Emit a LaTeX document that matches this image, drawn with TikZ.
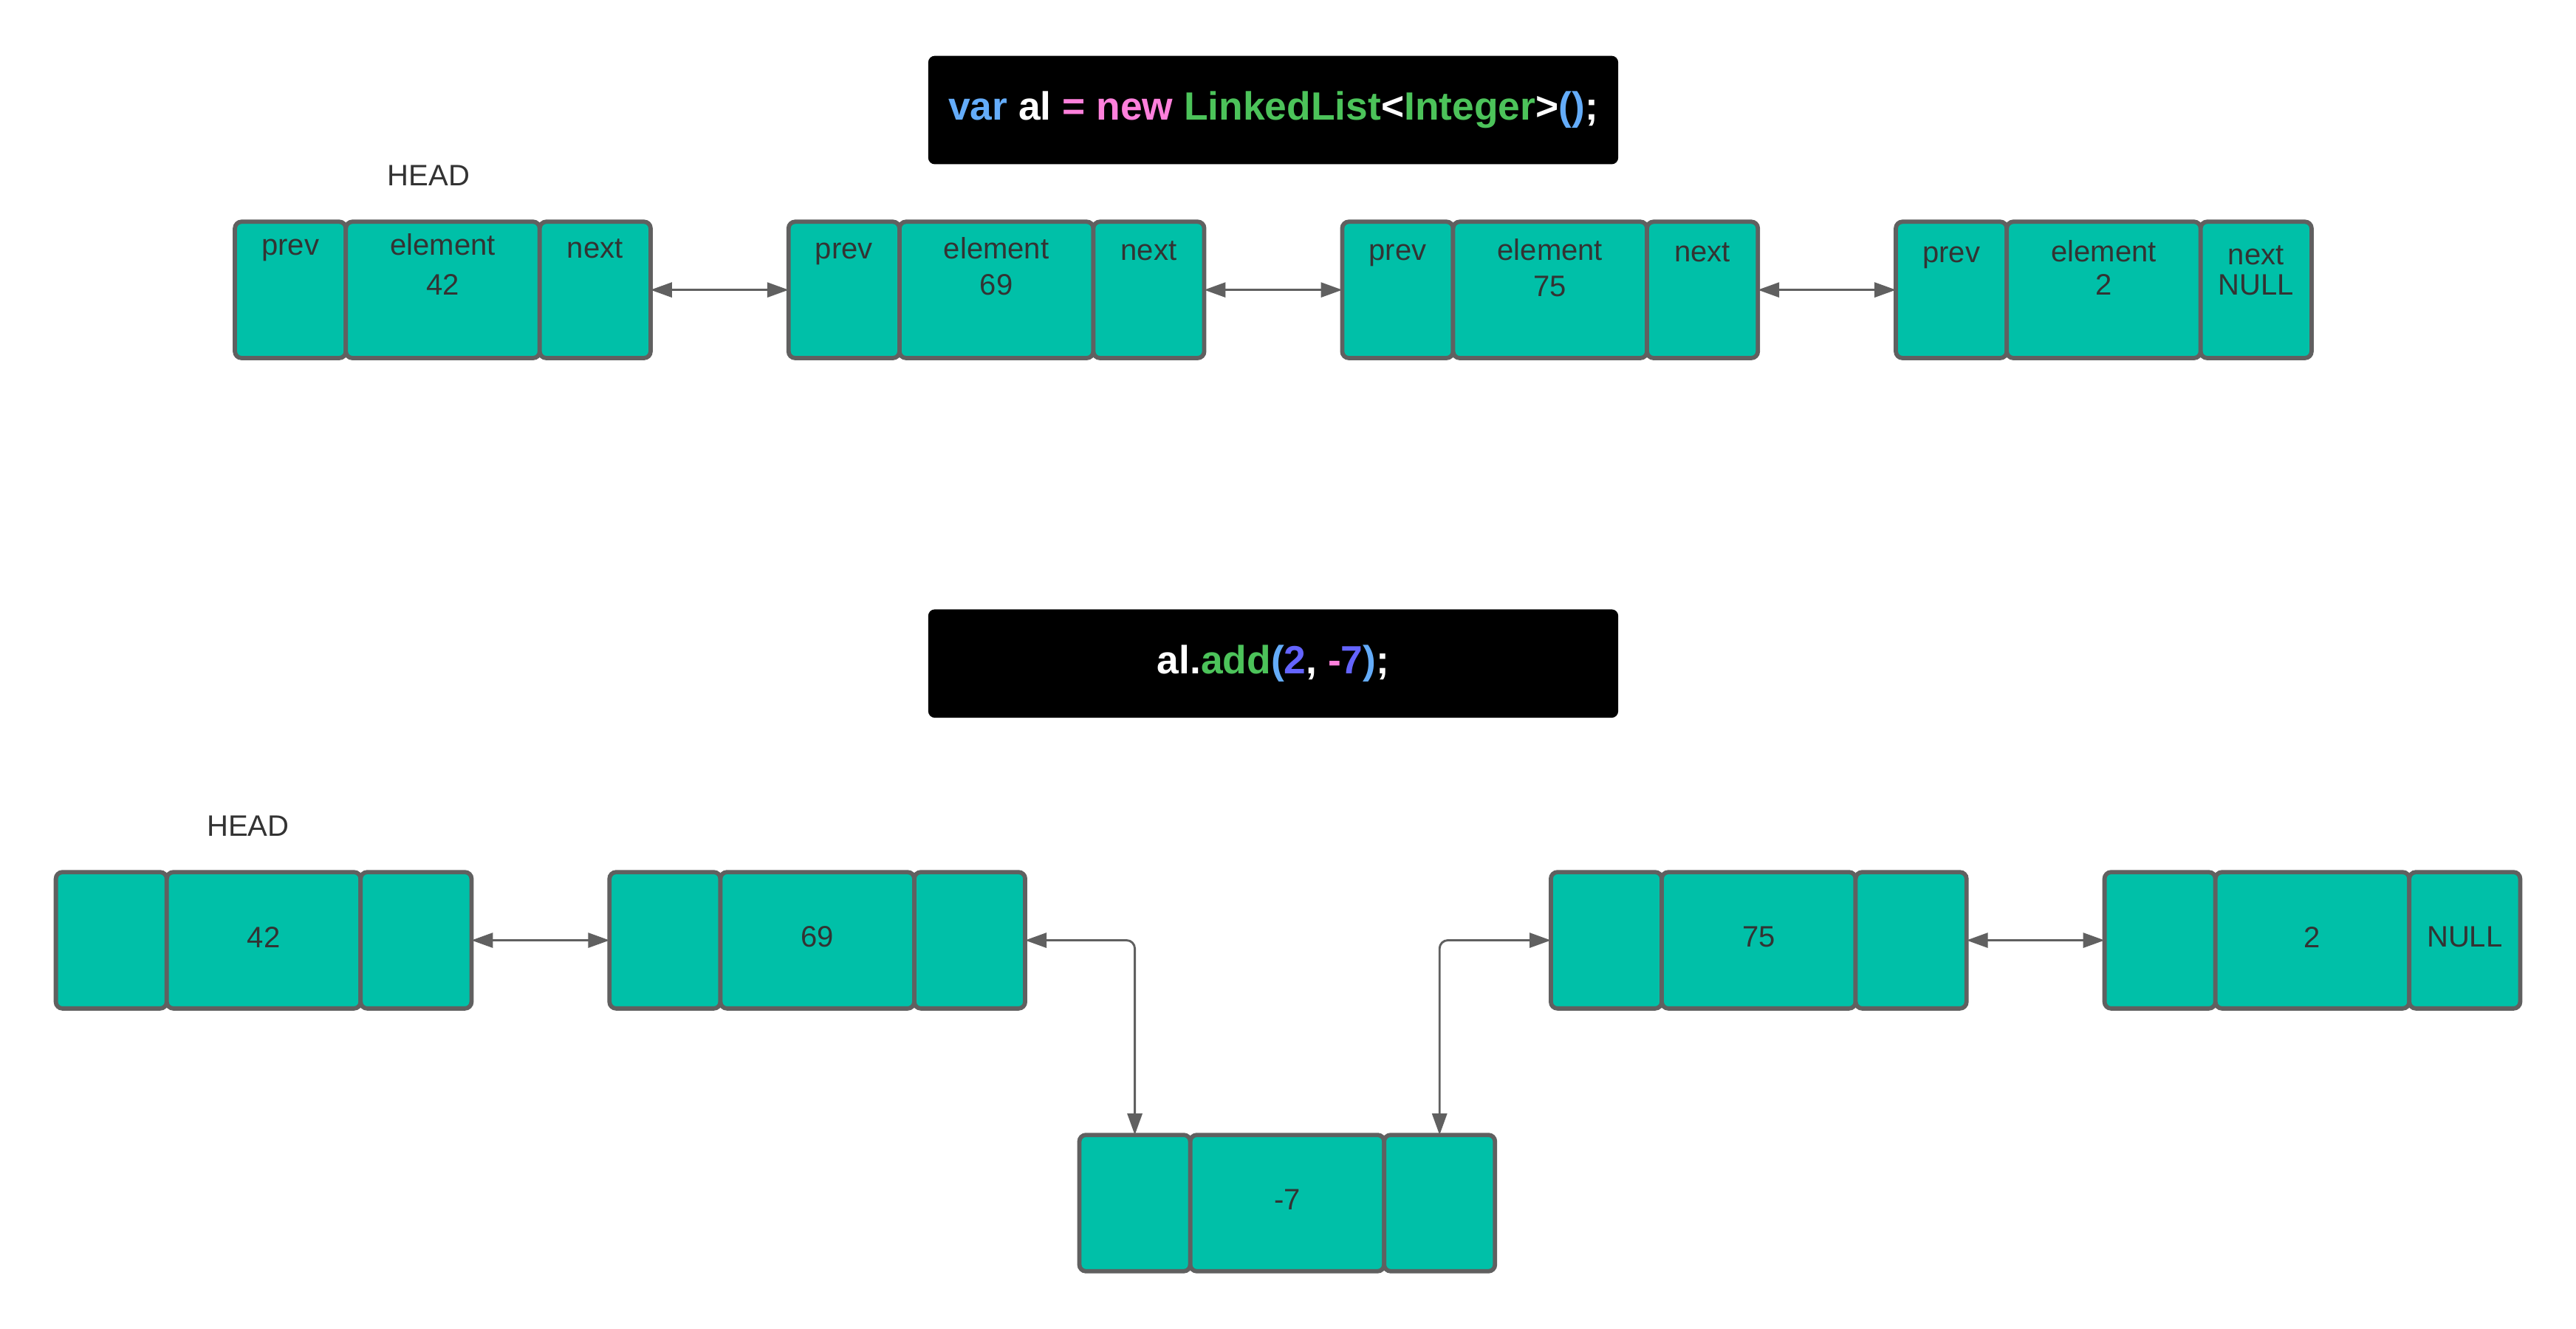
\documentclass[tikz,border=0pt]{standalone}
\usepackage{fontspec}
\setmainfont{Liberation Sans}
\usetikzlibrary{arrows.meta,calc}
\definecolor{cellfill}{RGB}{0,192,168}
\definecolor{cellborder}{RGB}{96,96,96}
\definecolor{labelgray}{RGB}{51,51,51}
\definecolor{codeblue}{RGB}{100,172,250}
\definecolor{codepink}{RGB}{255,128,220}
\definecolor{codegreen}{RGB}{76,195,90}
\definecolor{codepurple}{RGB}{100,100,255}
\tikzset{
  cell/.style={draw=cellborder, fill=cellfill, line width=2.6pt, rounded corners=4pt,
    minimum height=83pt, inner sep=0pt, outer sep=0pt},
  lbl/.style={text=labelgray, font=\fontsize{18}{22}\selectfont, inner sep=0pt},
  conn/.style={draw=cellborder, line width=1.3pt,
    {Triangle[length=13pt,width=9pt]}-{Triangle[length=13pt,width=9pt]}},
  codebox/.style={fill=black, rounded corners=4pt, minimum width=420pt, minimum height=66pt,
    inner sep=0pt, font=\fontsize{24}{28}\selectfont\bfseries, text=white},
}
\newcommand\cellrow[3]{%
  \node[cell, minimum width=67.5pt, anchor=north west] (#1p) at (#2,#3) {};
  \node[cell, minimum width=118pt, anchor=north west] (#1e) at (#1p.north east) {};
  \node[cell, minimum width=67.5pt, anchor=north west] (#1n) at (#1e.north east) {};
}
\begin{document}
\begin{tikzpicture}[x=1pt,y=-1pt]
\useasboundingbox (0,0) rectangle (1568,809);

% code boxes
\node[codebox] (code1) at (775,67) {{\color{codeblue}var} al {\color{codepink}= new} {\color{codegreen}LinkedList}<{\color{codegreen}Integer}>{\color{codeblue}()};};
\node[codebox] (code2) at (775,404) {al.{\color{codegreen}add}{\color{codeblue}(}{\color{codepurple}2}, {\color{codepink}-}{\color{codepurple}7}{\color{codeblue})};};

% top list
\cellrow{a1}{143}{135}
\cellrow{a2}{480}{135}
\cellrow{a3}{817}{135}
\cellrow{a4}{1154}{135}

\node[lbl] (headA) at (261,107) {HEAD};

\node[lbl, anchor=base] (a1pl) at (a1p.center |- 0,155.5) {prev};
\node[lbl, anchor=base] (a1el) at (a1e.center |- 0,155.5) {element};
\node[lbl, anchor=base] (a1vl) at (a1e.center |- 0,179.5) {42};
\node[lbl, anchor=base] (a1nl) at (a1n.center |- 0,157) {next};

\node[lbl, anchor=base] (a2pl) at (a2p.center |- 0,157.5) {prev};
\node[lbl, anchor=base] (a2el) at (a2e.center |- 0,157.5) {element};
\node[lbl, anchor=base] (a2vl) at (a2e.center |- 0,179.5) {69};
\node[lbl, anchor=base] (a2nl) at (a2n.center |- 0,158.5) {next};

\node[lbl, anchor=base] (a3pl) at (a3p.center |- 0,158.5) {prev};
\node[lbl, anchor=base] (a3el) at (a3e.center |- 0,158.5) {element};
\node[lbl, anchor=base] (a3vl) at (a3e.center |- 0,180.5) {75};
\node[lbl, anchor=base] (a3nl) at (a3n.center |- 0,159.5) {next};

\node[lbl, anchor=base] (a4pl) at (a4p.center |- 0,160) {prev};
\node[lbl, anchor=base] (a4el) at (a4e.center |- 0,159.5) {element};
\node[lbl, anchor=base] (a4vl) at (a4e.center |- 0,179.5) {2};
\node[lbl, anchor=base] (a4nl) at (a4n.center |- 0,161) {next};
\node[lbl, anchor=base] (a4xl) at (a4n.center |- 0,179.5) {NULL};

\draw[conn] (a1n.east) -- (a2p.west);
\draw[conn] (a2n.east) -- (a3p.west);
\draw[conn] (a3n.east) -- (a4p.west);

% bottom list
\cellrow{b1}{34}{531}
\cellrow{b2}{371}{531}
\cellrow{b3}{944}{531}
\cellrow{b4}{1281}{531}
\cellrow{nw}{657}{691}

\node[lbl] (headB) at (151,503) {HEAD};
\node[lbl] (b1vl) at ($(b1e.center)+(0,-2)$) {42};
\node[lbl] (b2vl) at ($(b2e.center)+(0,-2)$) {69};
\node[lbl] (b3vl) at ($(b3e.center)+(0,-2)$) {75};
\node[lbl] (b4vl) at ($(b4e.center)+(0,-2)$) {2};
\node[lbl] (b4xl) at ($(b4n.center)+(0,-2)$) {NULL};
\node[lbl] (nwvl) at ($(nwe.center)+(0,-2)$) {-7};

\draw[conn] (b1n.east) -- (b2p.west);
\draw[conn, rounded corners=5pt] (b2n.east) -| (nwp.north);
\draw[conn, rounded corners=5pt] (nwn.north) |- (b3p.west);
\draw[conn] (b3n.east) -- (b4p.west);
\end{tikzpicture}
\end{document}
